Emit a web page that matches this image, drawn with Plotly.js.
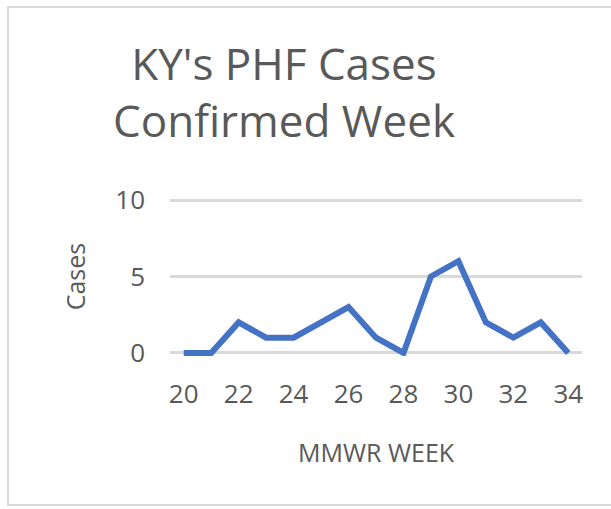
<!DOCTYPE html>
<html>
<head>
<meta charset="utf-8">
<script src="https://cdn.plot.ly/plotly-3.0.1.min.js"></script>
<style>
html,body{margin:0;padding:0;background:#fff;}
#chart{width:611px;height:509px;}
</style>
</head>
<body>
<div id="chart"></div>
<script>
var weeks = [20,21,22,23,24,25,26,27,28,29,30,31,32,33,34];
var cases = [0,0,2,1,1,2,3,1,0,5,6,2,1,2,0];
var xTicks = [20,22,24,26,28,30,32,34];
var yTicks = [0,5,10];

var W = 611, H = 509;
var L = 170, R = 29, T = 197, B = 153;
var pw = W - L - R, ph = H - T - B;
function px(x){ return (x - L) / pw; }
function py(y){ return (H - B - y) / ph; }

var txt = '#595959';
var font = 'Open Sans, sans-serif';

var trace = {
  x: weeks, y: cases, type: 'scatter', mode: 'lines',
  line: {color: '#4472C4', width: 6, shape: 'linear'},
  hoverinfo: 'none'
};

var layout = {
  width: W, height: H,
  margin: {l: L, r: R, t: T, b: B, pad: 0},
  paper_bgcolor: '#fff', plot_bgcolor: '#fff',
  showlegend: false,
  title: {
    text: "KY's PHF Cases<br>Confirmed Week",
    font: {family: font, size: 44, color: txt},
    x: 284/W, xanchor: 'center', xref: 'container',
    y: 1 - 80/H, yanchor: 'top', yref: 'container'
  },
  xaxis: {
    range: [19.5, 34.5],
    tickvals: xTicks, ticktext: xTicks.map(String),
    showgrid: false, zeroline: false, showline: false, ticks: '',
    tickfont: {family: font, size: 26, color: txt},
    ticklabelstandoff: 20,
    title: {text: 'MMWR WEEK', font: {family: font, size: 25, color: txt}, standoff: 34}
  },
  yaxis: {
    range: [-0.2, 10.2],
    tickvals: yTicks, ticktext: yTicks.map(String),
    showgrid: true, gridcolor: '#D9D9D9', gridwidth: 3,
    zeroline: false, showline: false, ticks: '',
    tickfont: {family: font, size: 26, color: txt},
    ticklabelstandoff: 24,
    title: {text: 'Cases', font: {family: font, size: 25, color: txt}, standoff: 22}
  },
  shapes: [{
    type: 'rect', xref: 'paper', yref: 'paper', layer: 'below',
    x0: px(8), x1: px(640), y0: py(505), y1: py(7),
    line: {color: '#D9D9D9', width: 2}, fillcolor: 'rgba(0,0,0,0)'
  }]
};

Plotly.newPlot('chart', [trace], layout, {staticPlot: true, displayModeBar: false});
</script>
</body>
</html>
